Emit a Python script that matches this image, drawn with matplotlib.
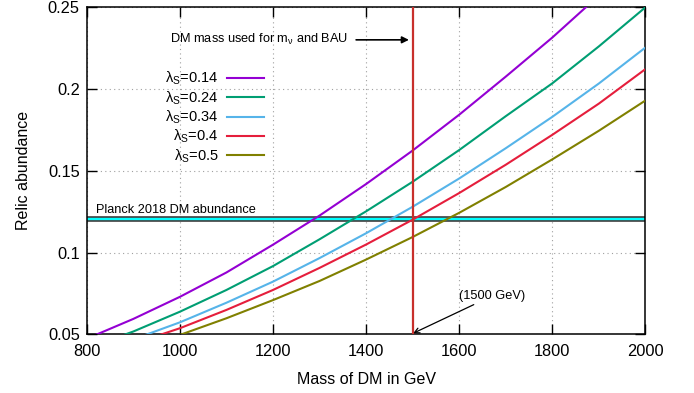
import matplotlib
matplotlib.use("Agg")
import matplotlib.pyplot as plt

plt.rcParams['font.family'] = ['Liberation Sans', 'DejaVu Sans']
plt.rcParams['mathtext.fontset'] = 'custom'
plt.rcParams['mathtext.rm'] = 'Liberation Sans'
plt.rcParams['mathtext.it'] = 'Liberation Sans'
plt.rcParams['mathtext.default'] = 'regular'

# DM mass in GeV
mass = [800, 900, 1000, 1100, 1200, 1300, 1400, 1500, 1600, 1700, 1800, 1900, 2000]

# relic abundance for each lambda_S
omega_014 = [0.0473, 0.0594, 0.0729, 0.0878, 0.1048, 0.1226, 0.1419, 0.1624, 0.1843, 0.2076, 0.2315, 0.2572, 0.2842]
omega_024 = [0.0414, 0.0517, 0.0638, 0.0771, 0.0917, 0.1081, 0.1252, 0.1433, 0.1627, 0.1834, 0.2035, 0.2261, 0.2500]
omega_034 = [0.0371, 0.0469, 0.0573, 0.0693, 0.0822, 0.0966, 0.1118, 0.1280, 0.1453, 0.1638, 0.1830, 0.2034, 0.2254]
omega_04 = [0.0349, 0.0442, 0.0537, 0.0649, 0.0771, 0.0906, 0.1049, 0.1201, 0.1364, 0.1537, 0.1720, 0.1911, 0.2122]
omega_05 = [0.0317, 0.0402, 0.0496, 0.0598, 0.0709, 0.0826, 0.0957, 0.1095, 0.1243, 0.1401, 0.1570, 0.1745, 0.1930]

labels = [r'$\lambda_S$=0.14', r'$\lambda_S$=0.24', r'$\lambda_S$=0.34', r'$\lambda_S$=0.4', r'$\lambda_S$=0.5']
colors = ['#9400d3', '#009e73', '#56b4e9', '#e51e3c', '#808000']

planck_lo = 0.1192
planck_hi = 0.1215
m_used = 1500

xticks = [800, 1000, 1200, 1400, 1600, 1800, 2000]
yticks = [0.05, 0.1, 0.15, 0.2, 0.25]
yticklabels = ['0.05', '0.1', '0.15', '0.2', '0.25']

fig, ax = plt.subplots(figsize=(6.94, 3.93), dpi=100)
fig.subplots_adjust(left=0.125, right=0.930, top=0.9814, bottom=0.1494)

ax.grid(True, linestyle=(0, (1, 3)), color='#a0a0a0', linewidth=0.8)
ax.set_axisbelow(True)

# Planck band
ax.axhspan(planck_lo, planck_hi, facecolor='#00ffff', edgecolor='none', zorder=2)
ax.axhline(planck_lo, color='#404040', lw=1.2, zorder=2)
ax.axhline(planck_hi, color='#404040', lw=1.2, zorder=2)

series = [omega_014, omega_024, omega_034, omega_04, omega_05]
for ys, lab, c in zip(series, labels, colors):
    ax.plot(mass, ys, color=c, lw=1.5, label=lab, zorder=3)

ax.axvline(m_used, color='#c8302c', lw=1.6, zorder=4)

ax.set_xlim(800, 2000)
ax.set_ylim(0.05, 0.25)
ax.set_xticks(xticks)
ax.set_yticks(yticks)
ax.set_yticklabels(yticklabels)
ax.tick_params(direction='in', length=7, width=1, top=True, right=True, labelsize=11.8)
ax.tick_params(axis='x', pad=7)
ax.tick_params(axis='y', pad=5)
for s in ax.spines.values():
    s.set_linewidth(1.1)

ax.set_xlabel('Mass of DM in GeV', fontsize=11.5, labelpad=9)
ax.set_ylabel('Relic abundance', fontsize=11.5, labelpad=12)

leg = ax.legend(loc='upper left', bbox_to_anchor=(0.13, 0.826), markerfirst=False, frameon=False,
                fontsize=10.5, handlelength=2.5, labelspacing=0.13, handletextpad=0.6,
                borderaxespad=0)

ax.annotate('DM mass used for m$_\\nu$ and BAU', xy=(1492, 0.2301), xytext=(978, 0.2301),
            fontsize=9.2, va='center', ha='left',
            arrowprops=dict(arrowstyle='-|>', color='black', lw=1.2, shrinkA=4, shrinkB=0,
                            mutation_scale=10))
ax.text(820, 0.1225, 'Planck 2018 DM abundance', fontsize=9.2, va='bottom', ha='left')
ax.annotate('(1500 GeV)', xy=(1501, 0.0506), xytext=(1600, 0.0735),
            fontsize=9.2, va='center', ha='left',
            arrowprops=dict(arrowstyle='->', color='black', lw=0.9, shrinkA=0, shrinkB=0))

fig.savefig('out.png', dpi=100)
